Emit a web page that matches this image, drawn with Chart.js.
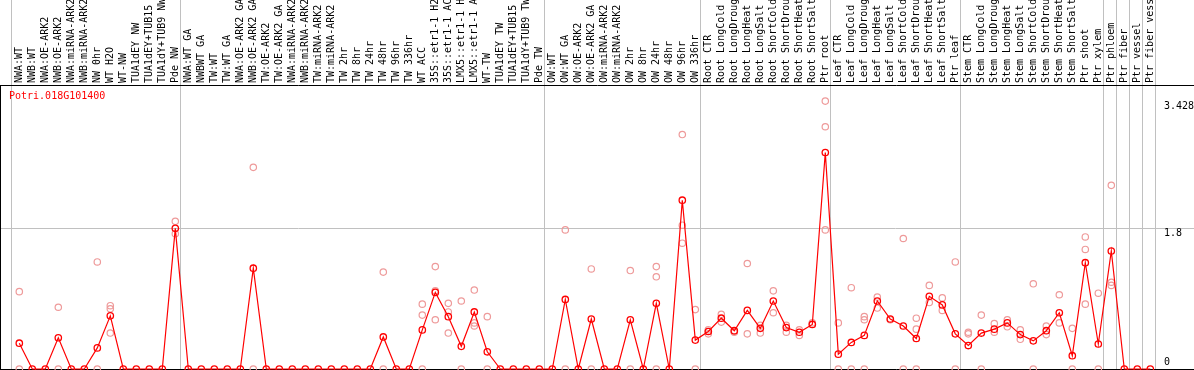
<!DOCTYPE html>
<html>
<head>
<meta charset="utf-8">
<script src="https://cdn.jsdelivr.net/npm/chart.js@4"></script>
<style>
  html, body { margin: 0; padding: 0; background: #fff; }
  #wrap { width: 1194px; height: 370px; }
</style>
</head>
<body>
<div id="wrap"><canvas id="grafico" width="1194" height="370"></canvas></div>
<script>
// nombre del gen que va arriba a la izquierda
const gen = 'Potri.018G101400';

// muestras (eje de arriba)
const muestras = [
  'NWA:WT', 'NWB:WT', 'NWA:OE-ARK2', 'NWB:OE-ARK2', 'NWA:miRNA-ARK2', 'NWB:miRNA-ARK2',
  'NW 0hr', 'WT H2O', 'WT-NW', 'TUA1dEY NW', 'TUA1dEY+TUB15 NW', 'TUA1dY+TUB9 NW', 'Pde NW',
  'NWA:WT GA', 'NWBWT GA', 'TW:WT', 'TW:WT GA', 'NWA:OE-ARK2 GA', 'NWB:OE-ARK2 GA',
  'TW:OE-ARK2', 'TW:OE-ARK2 GA', 'NWA:miRNA-ARK2 GA', 'NWB:miRNA-ARK2 GA', 'TW:miRNA-ARK2',
  'TW:miRNA-ARK2 GA', 'TW 2hr', 'TW 8hr', 'TW 24hr', 'TW 48hr', 'TW 96hr', 'TW 336hr', 'WT ACC',
  '35S::etr1-1 H2O', '35S::etr1-1 ACC', 'LMX5::etr1-1 H2O', 'LMX5::etr1-1 ACC', 'WT-TW',
  'TUA1dEY TW', 'TUA1dEY+TUB15 TW', 'TUA1dY+TUB9 TW', 'Pde TW',
  'OW:WT', 'OW:WT GA', 'OW:OE-ARK2', 'OW:OE-ARK2 GA', 'OW:miRNA-ARK2', 'OW:miRNA-ARK2 GA',
  'OW 2hr', 'OW 8hr', 'OW 24hr', 'OW 48hr', 'OW 96hr', 'OW 336hr',
  'Root CTR', 'Root LongCold', 'Root LongDrought', 'Root LongHeat', 'Root LongSalt',
  'Root ShortCold', 'Root ShortDrought', 'Root ShortHeat', 'Root ShortSalt', 'Ptr root',
  'Leaf CTR', 'Leaf LongCold', 'Leaf LongDrought', 'Leaf LongHeat', 'Leaf LongSalt',
  'Leaf ShortCold', 'Leaf ShortDrought', 'Leaf ShortHeat', 'Leaf ShortSalt', 'Ptr leaf',
  'Stem CTR', 'Stem LongCold', 'Stem LongDrought', 'Stem LongHeat', 'Stem LongSalt',
  'Stem ShortCold', 'Stem ShortDrought', 'Stem ShortHeat', 'Stem ShortSalt', 'Ptr shoot',
  'Ptr xylem', 'Ptr phloem', 'Ptr fiber', 'Ptr vessel', 'Ptr fiber vessel'
];

// promedio (linea roja)
const media = [
  0.33, 0, 0, 0.40, 0, 0, 0.27, 0.68, 0, 0, 0, 0, 1.80,
  0, 0, 0, 0, 0, 1.29, 0, 0, 0, 0, 0, 0, 0, 0, 0, 0.41, 0, 0, 0.50, 0.98, 0.67, 0.29, 0.73, 0.22, 0, 0, 0, 0,
  0, 0.89, 0, 0.64, 0, 0, 0.63, 0, 0.84, 0, 2.16, 0.37,
  0.48, 0.65, 0.49, 0.75, 0.52, 0.87, 0.53, 0.47, 0.57, 2.77,
  0.19, 0.34, 0.43, 0.87, 0.64, 0.55, 0.39, 0.93, 0.82, 0.45,
  0.30, 0.46, 0.51, 0.59, 0.44, 0.36, 0.49, 0.72, 0.17, 1.36, 0.32,
  1.51, 0, 0, 0
];

// replicas (circulos rosados), null = no se ve
const rep1 = [
  0.99, null, null, 0.79, null, null, 1.37, 0.81, null, null, null, null, 1.89,
  null, null, null, null, null, 2.58, null, null, null, null, null, null, null, null, null, 1.24, null, null, 0.83, 1.31, 0.84, 0.87, 1.01, 0.67, null, null, null, null,
  null, 1.78, null, 1.28, null, null, 1.26, null, 1.31, null, 3.0, 0.76,
  0.5, 0.7, 0.48, 1.35, 0.56, 1.0, 0.56, 0.5, 0.59, 3.428,
  0.59, 1.04, 0.67, 0.92, 0.63, 1.67, 0.65, 1.07, 0.91, 1.37,
  0.47, 0.69, 0.58, 0.63, 0.5, 1.09, 0.55, 0.95, 0.52, 1.69, 0.97,
  2.35, null, null, null
];
const rep2 = [
  0, null, null, 0, null, null, 0, 0.77, null, null, null, null, 1.73,
  null, null, null, null, null, 0, null, null, null, null, null, null, null, null, null, 0, null, null, 0.69, 1.0, 0.73, 0, 0.59, 0, null, null, null, null,
  null, 0, null, 0, null, null, 0, null, 1.18, null, 1.84, 0,
  0.45, 0.6, 0.47, 0.45, 0.46, 0.72, 0.47, 0.43, null, 3.1,
  0, 0, 0.63, 0.78, null, 0, 0.51, 0.85, 0.75, 0,
  0.45, 0, 0.47, 0.54, 0.38, 0, 0.44, 0.59, 0, 1.53, 0,
  1.11, null, null, null
];
const rep3 = [
  null, null, null, null, null, null, null, 0.46, null, null, null, null, null,
  null, null, null, null, null, null, null, null, null, null, null, null, null, null, null, null, null, null, 0, 0.63, 0.46, null, 0.55, null, null, null, null, null,
  null, null, null, null, null, null, null, null, 0, null, 1.61, null,
  null, null, null, null, null, null, null, null, null, 1.78,
  null, null, 0, null, null, null, 0, null, null, null,
  null, null, null, null, null, null, null, null, null, 0.83, null,
  1.07, null, null, null
];

// donde empieza cada grupo (lineas grises verticales)
const inicioGrupo = [0, 13, 41, 53, 63, 73, 84, 85, 86, 87, 88];
// valores del eje y
const yTicks = [0, 1.8, 3.428];

const fuente = { family: 'DejaVu Sans Mono', size: 10 };

// escala x: 13 px por muestra, la primera en x=19.3
const pxMuestra = 13;
const xMin = -19.3 / pxMuestra;
const xMax = xMin + 1194 / pxMuestra;
const lineasGrupo = inicioGrupo.map(i => i - 8 / pxMuestra);

const puntosMedia = media.map((v, i) => ({ x: i, y: v }));
const puntosRep = [];
[rep1, rep2, rep3].forEach(rep => rep.forEach((v, i) => {
  if (v !== null) puntosRep.push({ x: i, y: v });
}));

// texto del gen dentro del grafico
const tituloGen = {
  id: 'tituloGen',
  afterDraw(chart) {
    const c = chart.ctx;
    c.save();
    c.fillStyle = '#ff0000';
    c.font = '10px "DejaVu Sans Mono"';
    c.textBaseline = 'top';
    c.fillText(gen, chart.chartArea.left + 9, chart.chartArea.top + 6);
    c.restore();
  }
};

const ctx = document.getElementById('grafico').getContext('2d');
new Chart(ctx, {
  type: 'line',
  data: {
    datasets: [
      {
        label: 'media',
        data: puntosMedia,
        borderColor: '#ff0000',
        borderWidth: 1.2,
        pointRadius: 3.2,
        pointBorderWidth: 1.3,
        pointBorderColor: '#ff0000',
        pointBackgroundColor: 'rgba(0,0,0,0)',
        order: 1,
        clip: false
      },
      {
        label: 'replicas',
        data: puntosRep,
        showLine: false,
        pointRadius: 3.2,
        pointBorderWidth: 1.2,
        pointBorderColor: '#ee9a9a',
        pointBackgroundColor: 'rgba(0,0,0,0)',
        order: 2,
        clip: false
      }
    ]
  },
  options: {
    responsive: false,
    animation: false,
    devicePixelRatio: 1,
    events: [],
    layout: { autoPadding: false, padding: { top: 0, left: 0, right: 0, bottom: 1 } },
    plugins: { legend: { display: false }, tooltip: { enabled: false } },
    scales: {
      x: {
        type: 'linear',
        position: 'top',
        min: xMin,
        max: xMax,
        afterBuildTicks: s => {
          s.ticks = muestras.map((m, i) => ({ value: i })).concat(lineasGrupo.map(v => ({ value: v })));
        },
        afterFit: s => { s.height = 85; s.paddingLeft = 0; s.paddingRight = 0; },
        ticks: {
          autoSkip: false,
          minRotation: 90,
          maxRotation: 90,
          padding: -83,
          labelOffset: 12,
          color: '#000',
          font: fuente,
          callback: (v, i) => i < muestras.length ? muestras[i] : ''
        },
        grid: {
          color: c => Number.isInteger(c.tick.value) ? 'rgba(0,0,0,0)' : '#c0c0c0',
          tickLength: 85,
          lineWidth: 1
        },
        border: { color: '#000', width: 1 }
      },
      y: {
        type: 'linear',
        position: 'right',
        min: 0,
        max: 3.634,
        afterBuildTicks: s => { s.ticks = yTicks.map(v => ({ value: v })); },
        afterFit: s => { s.width = 0; s.paddingTop = 0; s.paddingBottom = 0; },
        ticks: {
          mirror: true,
          crossAlign: 'far',
          padding: 0,
          labelOffset: 5,
          color: '#000',
          font: fuente,
          callback: v => v === 0 ? ['0', '', ''] : String(v)
        },
        grid: {
          color: c => c.tick.value === 1.8 ? '#c0c0c0' : 'rgba(0,0,0,0)',
          drawTicks: false
        },
        border: { display: false }
      },
      yl: {
        type: 'linear',
        position: 'left',
        ticks: { display: false },
        grid: { display: false },
        border: { color: '#000', width: 1 },
        afterFit: s => { s.width = 0; s.paddingTop = 0; s.paddingBottom = 0; }
      },
      xb: {
        type: 'linear',
        position: 'bottom',
        ticks: { display: false },
        grid: { display: false },
        border: { color: '#000', width: 1 },
        afterFit: s => { s.height = 0; s.paddingLeft = 0; s.paddingRight = 0; }
      }
    }
  },
  plugins: [tituloGen]
});
</script>
</body>
</html>
